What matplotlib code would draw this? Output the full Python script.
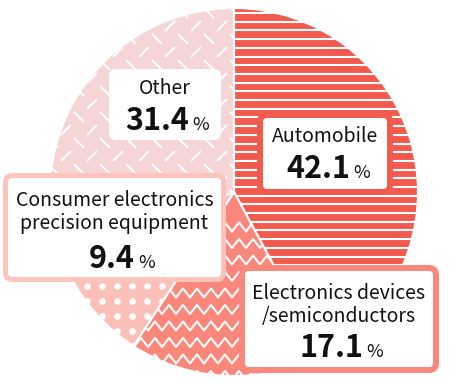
import numpy as np
import matplotlib
matplotlib.use('Agg')
import matplotlib.pyplot as plt
from matplotlib.patches import FancyBboxPatch
from matplotlib.collections import LineCollection

plt.rcParams['font.family'] = ['Noto Sans CJK JP', 'DejaVu Sans']

# data
labels = ['Automobile', 'Electronics devices\n/semiconductors',
          'Consumer electronics\nprecision equipment', 'Other']
shares = [42.1, 17.1, 9.4, 31.4]
colors = ['#F25A4D', '#FA877B', '#FDC0B9', '#F5D5D5']
border_colors = ['#F25A4D', '#FA877B', '#FDC4BD', '#F5D5D5']

# layout (pixel coords, y down)
cx, cy, r = 234, 192, 184
boxes = [(260, 115, 130, 77), (242, 268, 194, 102), (5.5, 175.5, 218, 104), (109, 69, 112, 71)]
box_lw = [4.3, 4.3, 3.6, 0]
text_y = [(137, 178), (305, 357), (212, 268), (89, 130)]
split_x = [350, 363, 135, 189]

fig = plt.figure(figsize=(4.73, 3.81), dpi=100)
ax = fig.add_axes([0, 0, 1, 1])
wedges, _ = ax.pie(shares, colors=colors, startangle=-90, counterclock=True,
                   center=(cx, cy), radius=r,
                   wedgeprops=dict(edgecolor='white', linewidth=1.5))
ax.set_xlim(0, 473)
ax.set_ylim(381, 0)
ax.set_aspect('equal')
ax.axis('off')

white_lw = 1.5

# automobile: horizontal stripes
segs = [[(cx - r, y), (cx + r, y)] for y in np.arange(13, cy + r, 8.7)]
lc = LineCollection(segs, colors='white', linewidths=white_lw, zorder=2)
lc.set_clip_path(wedges[0])
ax.add_collection(lc)

# electronics: zigzag
segs = []
for y in np.arange(227, cy + r + 10, 16.5):
    xs = np.arange(120, 440, 7)
    ys = y + np.where(np.arange(len(xs)) % 2 == 0, 4.5, -4.5)
    segs.append(np.column_stack([xs, ys]))
lc = LineCollection(segs, colors='white', linewidths=white_lw, zorder=2)
lc.set_clip_path(wedges[1])
ax.add_collection(lc)

# consumer: dots
gx, gy = np.meshgrid(np.arange(27, 240, 15), np.arange(166, 380, 15))
sc = ax.scatter(gx.ravel(), gy.ravel(), s=23, color='white', linewidths=0, zorder=2)
sc.set_clip_path(wedges[2])

# other: alternating dashes
segs = []
s = 26
d = 5
for i in np.arange(-2, 12):
    for j in np.arange(-2, 12):
        x0, y0 = 40 + i * s, j * s
        segs.append([(x0 - d, y0 + d), (x0 + d, y0 - d)])
        x1, y1 = x0 + s / 2, y0 + s / 2
        segs.append([(x1 - d, y1 - d), (x1 + d, y1 + d)])
lc = LineCollection(segs, colors='white', linewidths=white_lw, zorder=2)
lc.set_clip_path(wedges[3])
ax.add_collection(lc)

# label boxes
for i in range(4):
    x0, y0, w, h = boxes[i]
    ax.add_patch(FancyBboxPatch((x0, y0), w, h,
                                boxstyle='round,pad=0,rounding_size=7',
                                facecolor='white', edgecolor=border_colors[i],
                                linewidth=box_lw[i], zorder=3))
    xc = x0 + w / 2
    ly, ny = text_y[i]
    ax.text(xc, ly, labels[i], ha='center', va='center', fontsize=14,
            linespacing=1.15, color='#111111', zorder=4)
    ax.text(split_x[i], ny, f'{shares[i]:.1f}', ha='right', va='baseline',
            fontsize=22, fontweight='bold', color='#111111', zorder=4)
    ax.text(split_x[i] + 3, ny, '%', ha='left', va='baseline',
            fontsize=13, color='#111111', zorder=4)

fig.savefig('out.png', dpi=100)
